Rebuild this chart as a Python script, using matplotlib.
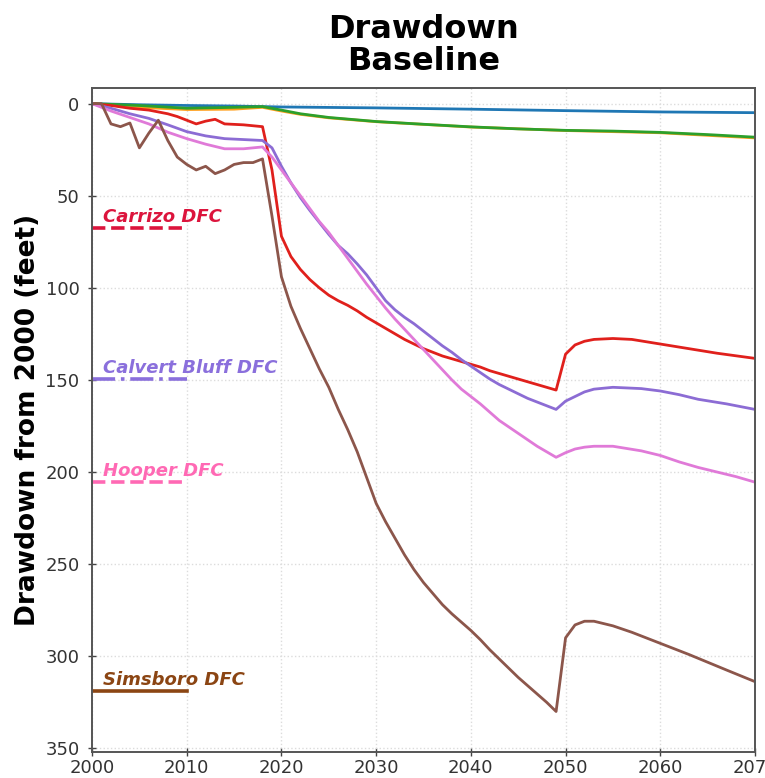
import numpy as np
import matplotlib.pyplot as plt

# ═══════════════════════════════════════════════════════════
# DATA (drawdown in feet)
# ═══════════════════════════════════════════════════════════
blue_years = [2000, 2005, 2010, 2015, 2020, 2030, 2040, 2050, 2060, 2070]
blue_dd = [0, 0.6, 1.0, 1.3, 1.8, 2.3, 3.0, 3.8, 4.5, 4.9]

green_years = [2000, 2005, 2010, 2015, 2018, 2020, 2022, 2025, 2030, 2035,
               2040, 2045, 2050, 2055, 2060, 2065, 2070]
green_dd = [0, 1.0, 2.5, 2.0, 1.6, 3.5, 5.5, 7.5, 9.7, 11.2,
            12.6, 13.7, 14.5, 14.9, 15.6, 16.8, 18.2]

orange_years = [2000, 2005, 2010, 2015, 2018, 2020, 2022, 2025, 2030, 2040,
                2050, 2060, 2070]
orange_dd = [0, 2.0, 3.2, 3.0, 2.0, 4.0, 5.8, 7.7, 9.8, 12.7,
             14.6, 15.8, 18.6]

carrizo_years = [2000, 2002, 2004, 2006, 2008, 2009, 2010, 2011, 2012, 2013,
                 2014, 2016, 2018, 2019, 2020, 2021, 2022, 2023, 2024, 2025,
                 2026, 2027, 2028, 2029, 2030, 2031, 2032, 2033, 2034, 2035,
                 2036, 2037, 2038, 2039, 2040, 2041, 2042, 2043, 2044, 2045,
                 2046, 2047, 2048, 2049, 2050, 2051, 2052, 2053, 2055, 2057,
                 2060, 2063, 2066, 2070]
carrizo_dd = [0, 1, 2.5, 3.5, 5.5, 7, 9, 11, 9.5, 8.5,
              11, 11.5, 12.5, 36, 72, 83, 90, 95.5, 100, 104,
              107, 109.5, 112.5, 116, 119, 122, 125, 128, 130.5, 133,
              135, 137, 138.5, 140, 141.5, 143, 145, 146.5, 148, 149.5,
              151, 152.5, 154, 155.5, 136, 131, 129, 128, 127.5, 128,
              130.5, 133, 135.5, 138.3]

calvert_years = [2000, 2002, 2004, 2006, 2008, 2010, 2012, 2014, 2016, 2018,
                 2019, 2020, 2021, 2022, 2023, 2024, 2025, 2026, 2027, 2028,
                 2029, 2030, 2031, 2032, 2033, 2034, 2035, 2036, 2037, 2038,
                 2039, 2040, 2041, 2042, 2043, 2044, 2045, 2046, 2047, 2048,
                 2049, 2050, 2051, 2052, 2053, 2055, 2058, 2060, 2062, 2064,
                 2067, 2070]
calvert_dd = [0, 2.5, 5.5, 8, 11.5, 15.2, 17.5, 19, 19.5, 20,
              24, 34, 43, 51, 58, 64.5, 71, 77, 81.5, 87,
              93, 100, 107, 112, 116, 119.5, 123.5, 127.5, 131.5, 135,
              139, 142.5, 146, 149.5, 152.5, 155, 157.5, 160, 162, 164,
              166, 161.5, 159, 156.5, 155, 154, 154.7, 156, 158, 160.5,
              163, 166]

hooper_years = [2000, 2002, 2004, 2006, 2008, 2010, 2012, 2014, 2016, 2018,
                2019, 2020, 2021, 2022, 2023, 2024, 2025, 2026, 2027, 2028,
                2029, 2030, 2031, 2032, 2033, 2034, 2035, 2036, 2037, 2038,
                2039, 2040, 2041, 2042, 2043, 2044, 2045, 2046, 2047, 2048,
                2049, 2050, 2051, 2052, 2053, 2055, 2058, 2060, 2062, 2064,
                2066, 2068, 2070]
hooper_dd = [0, 4, 7.5, 11, 15.5, 19, 22, 24.5, 24.5, 23.5,
             29, 36, 43, 50, 57, 64, 70, 77, 84, 91,
             98, 104.5, 111, 117, 122.5, 128, 133.5, 139, 144.5, 150,
             155, 159, 163, 167.5, 172, 175.5, 179, 182.5, 186, 189,
             192, 189.5, 187.5, 186.5, 186, 186, 188.5, 191, 194.5, 197.5,
             200, 202.5, 205.5]

simsboro_years = [2000, 2001, 2002, 2003, 2004, 2005, 2006, 2007, 2008, 2009,
                  2010, 2011, 2012, 2013, 2014, 2015, 2016, 2017, 2018, 2019,
                  2020, 2021, 2022, 2023, 2024, 2025, 2026, 2027, 2028, 2029,
                  2030, 2031, 2032, 2033, 2034, 2035, 2036, 2037, 2038, 2039,
                  2040, 2041, 2042, 2043, 2044, 2045, 2046, 2047, 2048, 2049,
                  2050, 2051, 2052, 2053, 2055, 2057, 2060, 2063, 2067, 2070]
simsboro_dd = [0, 0, 11, 12.5, 10.5, 24, 16, 9, 20, 29,
               33, 36, 34, 38, 36, 33, 32, 32, 30, 61,
               94, 110, 122, 133, 144, 154, 166, 177, 189, 203,
               217, 227, 236, 245, 253, 260, 266, 272, 277, 281.5,
               286, 291, 296.5, 301.5, 306.5, 311.5, 316, 320.5, 325, 330,
               290, 283, 281, 281, 283.5, 287, 293, 299, 307.5, 313.8]

# Desired Future Conditions (feet of drawdown, drawn from 2000 to 2010)
dfc_names = ["Carrizo DFC", "Calvert Bluff DFC", "Hooper DFC", "Simsboro DFC"]
dfc_values = [67.5, 149.5, 205.5, 319]
dfc_colors = ["#dc143c", "#8a6fdc", "#ff69b4", "#8b4513"]
dfc_styles = ["--", "-.", "--", "-"]

# ═══════════════════════════════════════════════════════════
# PLOT
# ═══════════════════════════════════════════════════════════
fig = plt.figure(figsize=(7.65, 7.78), dpi=100)
ax = fig.add_axes([0.1203, 0.0334, 0.8666, 0.8535])

ax.plot(blue_years, blue_dd, color="#1f77b4", lw=2)
ax.plot(orange_years, orange_dd, color="#ff9f1c", lw=2)
ax.plot(green_years, green_dd, color="#2ca02c", lw=2)
ax.plot(carrizo_years, carrizo_dd, color="#e0201c", lw=2)
ax.plot(calvert_years, calvert_dd, color="#8c6cd4", lw=2)
ax.plot(hooper_years, hooper_dd, color="#e07ad8", lw=2)
ax.plot(simsboro_years, simsboro_dd, color="#8c564b", lw=2)

for name, val, col, ls in zip(dfc_names, dfc_values, dfc_colors, dfc_styles):
    ax.plot([2000, 2010], [val, val], color=col, ls=ls, lw=2.6)
    ax.text(2001.2, val - 1, name, color=col, fontsize=13,
            fontweight="bold", fontstyle="italic", ha="left", va="bottom")

ax.set_xlim(2000, 2070)
ax.set_ylim(352, -8.5)
ax.set_xticks(np.arange(2000, 2071, 10))
ax.set_yticks(np.arange(0, 351, 50))

ax.grid(True, color="#dcdcdc", ls=":", lw=1)
ax.tick_params(direction="inout", length=6, width=1, color="#444444",
               labelsize=13, labelcolor="#333333", pad=6)
ax.tick_params(axis="x", pad=2)
for sp in ax.spines.values():
    sp.set_color("#555555")
    sp.set_linewidth(1.4)

ax.set_ylabel("Drawdown from 2000 (feet)", fontsize=19, fontweight="bold")
ax.yaxis.set_label_coords(-0.077, 0.5)
ax.set_title("Drawdown\nBaseline", fontsize=23, fontweight="bold",
             linespacing=1.05, pad=13)

plt.savefig("out.png", dpi=100)
